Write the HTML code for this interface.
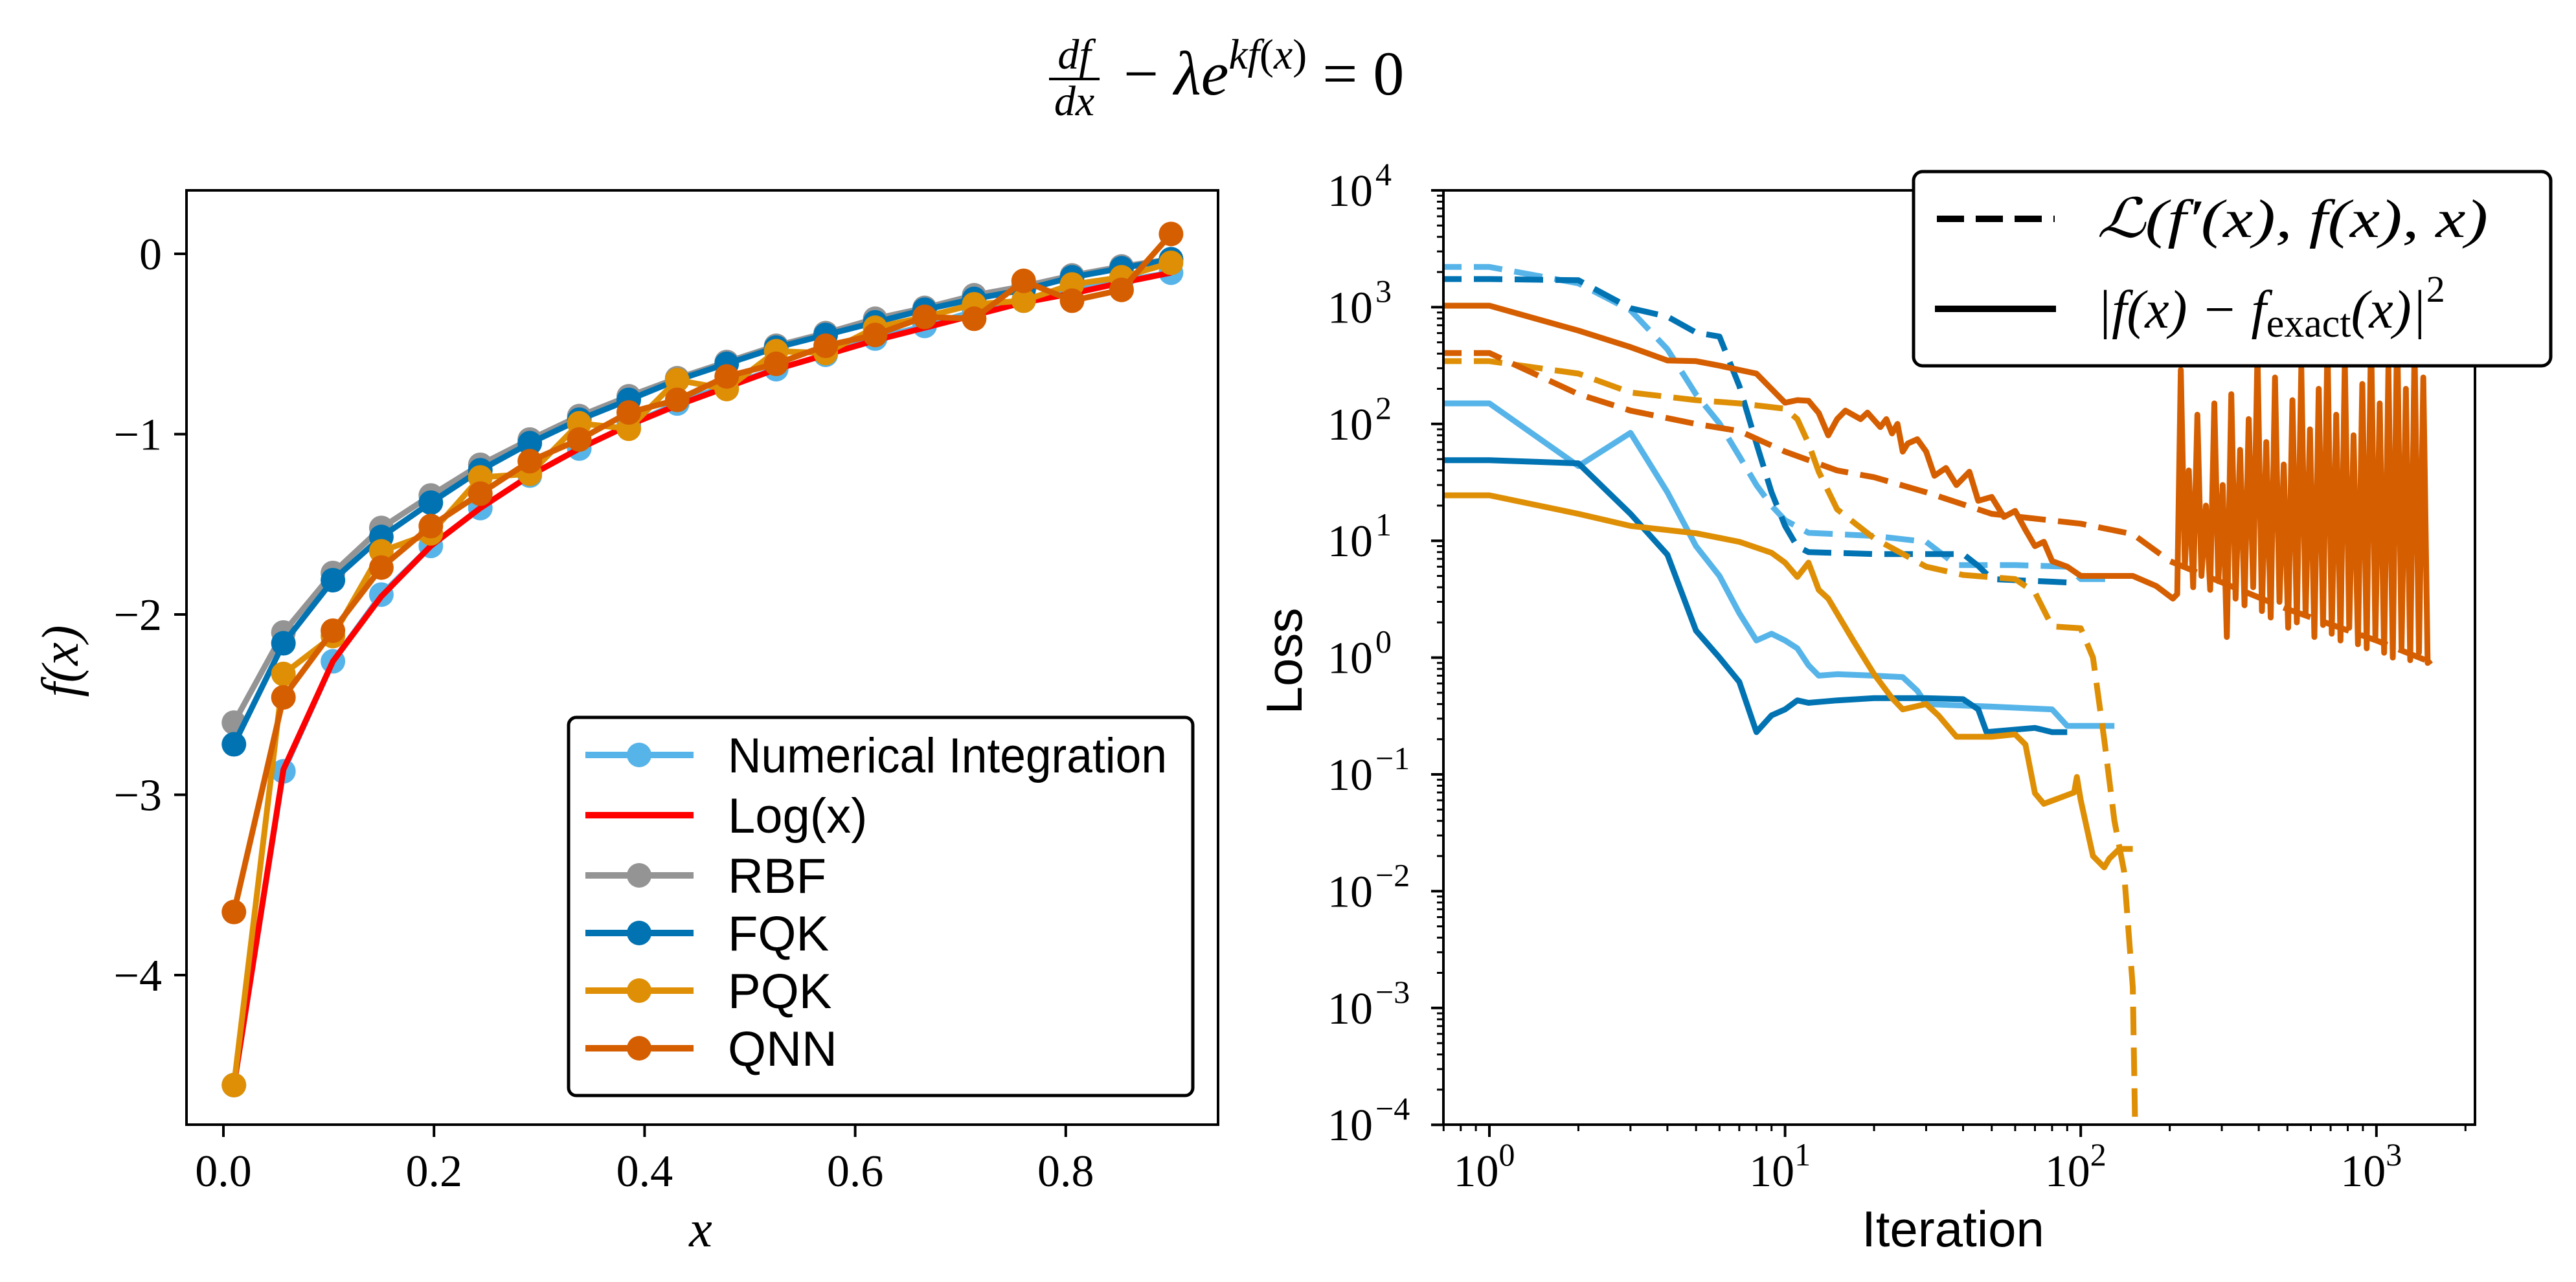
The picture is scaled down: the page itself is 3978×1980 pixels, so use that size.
<!DOCTYPE html>
<html><head><meta charset="utf-8"><style>
html,body{margin:0;padding:0;background:#fff;}
svg{display:block;}
.serif{font-family:"Liberation Serif",serif;}
.sans{font-family:"Liberation Sans",sans-serif;}
</style></head><body>
<svg id="fig" width="3978" height="1980" viewBox="0 0 3978 1980" xmlns="http://www.w3.org/2000/svg">
<defs>
<clipPath id="clipL"><rect x="288" y="294" width="1593" height="1443"/></clipPath>
<clipPath id="clipR"><rect x="2229" y="294" width="1593" height="1443"/></clipPath>
</defs>
<g class="serif" font-style="italic">
<text x="1659" y="106" font-size="66" text-anchor="middle">df</text>
<line x1="1620" y1="122" x2="1698" y2="122" stroke="#000" stroke-width="4"/>
<text x="1659" y="178" font-size="66" text-anchor="middle">dx</text>
<text x="1735" y="146" font-size="96"><tspan font-style="normal">− </tspan>λe<tspan font-size="66" dy="-40">kf<tspan font-style="normal">(</tspan>x<tspan font-style="normal">)</tspan></tspan><tspan dy="40" font-style="normal"> = 0</tspan></text>
</g>
<g id="left"></g>
<g id="right"></g>
</svg>
<script>
// ---- Left chart data ----
const xPts = [0.01,0.057,0.104,0.15,0.197,0.244,0.291,0.338,0.385,0.431,0.478,0.525,0.572,0.619,0.666,0.713,0.76,0.806,0.853,0.9];
const numInt = [-4.61,-2.87,-2.26,-1.89,-1.62,-1.41,-1.23,-1.08,-0.95,-0.83,-0.73,-0.64,-0.56,-0.47,-0.40,-0.32,-0.26,-0.20,-0.15,-0.105];
const logx = [-4.61,-2.86,-2.26,-1.90,-1.62,-1.41,-1.23,-1.08,-0.95,-0.84,-0.74,-0.64,-0.56,-0.48,-0.41,-0.34,-0.27,-0.22,-0.16,-0.105];
const rbf = [-2.6,-2.1,-1.77,-1.52,-1.34,-1.17,-1.03,-0.9,-0.79,-0.69,-0.6,-0.51,-0.44,-0.36,-0.30,-0.23,-0.18,-0.12,-0.07,-0.03];
const fqk = [-2.72,-2.16,-1.81,-1.57,-1.38,-1.2,-1.05,-0.92,-0.81,-0.70,-0.61,-0.52,-0.45,-0.38,-0.31,-0.25,-0.2,-0.13,-0.08,-0.03];
const pqk = [-4.61,-2.33,-2.12,-1.65,-1.55,-1.24,-1.22,-0.94,-0.97,-0.70,-0.75,-0.54,-0.55,-0.41,-0.35,-0.28,-0.26,-0.17,-0.13,-0.05];
const qnn = [-3.65,-2.46,-2.09,-1.74,-1.51,-1.33,-1.15,-1.03,-0.88,-0.81,-0.68,-0.61,-0.51,-0.45,-0.35,-0.36,-0.15,-0.26,-0.2,0.11];
const xTicksL = [0,0.2,0.4,0.6,0.8];
const xTickLabelsL = ["0.0","0.2","0.4","0.6","0.8"];
const yTicksL = [0,-1,-2,-3,-4];
const yTickLabelsL = ["0","−1","−2","−3","−4"];
const legendLabelsL = ["Numerical Integration","Log(x)","RBF","FQK","PQK","QNN"];

// ---- Right chart data ----
const itNumDash = [0,1,2,3,4,5,6,7,8,9,10,12,20,30,38,60,90,100,130];
const lossNumDash = [2210,2210,1600,940,436,179,101,53,30,20,15,11.7,11,9.8,6.2,6.2,6.0,4.7,4.7];
const itFqkDash = [0,1,2,3,4,5,6,7,8,9,10,11,12,20,40,45,50,90];
const lossFqkDash = [1740,1740,1700,980,830,606,560,212,68,26,13.4,8.9,8,7.7,7.7,6.1,4.7,4.4];
const itQnnDash = [0,1,2,3,5,7,10,15,20,30,50,100,150,200,300,500,1000,1500];
const lossQnnDash = [405,405,180,130,100,87,58,40,35,26,17,14,11.4,6.7,4.4,2.6,1.4,0.93];
const itPqkDash = [0,1,2,3,5,7,10,11,12,13,15,20,30,40,60,70,80,100,110,120,130,140,150,155];
const lossPqkDash = [345,345,270,186,160,150,135,110,68,39,18.6,10.5,6,5.1,4.7,3.6,1.85,1.78,1.0,0.2,0.04,0.015,0.0015,0.00001];
const itNumSol = [0,1,2,3,4,5,6,7,8,9,10,11,12,13,15,20,25,28,30,50,80,90,130];
const lossNumSol = [150,150,43.6,84,26,9,5,2.4,1.4,1.6,1.4,1.2,0.86,0.7,0.72,0.7,0.68,0.52,0.40,0.38,0.36,0.26,0.26];
const itFqkSol = [0,1,2,3,4,5,6,7,8,9,10,11,12,15,20,30,40,45,48,70,80,90];
const lossFqkSol = [49,49,46,17,7.6,1.7,1.0,0.62,0.23,0.32,0.36,0.43,0.41,0.43,0.45,0.45,0.44,0.36,0.23,0.25,0.23,0.23];
const itPqkSol = [0,1,2,3,5,7,9,10,11,12,13,14,17,20,23,25,30,33,38,50,60,65,70,75,85,95,97,100,110,120,125,135,150];
const lossPqkSol = [24.5,24.5,17,13.4,11.6,9.8,7.9,6.5,4.9,6.5,3.8,3.2,1.4,0.72,0.45,0.36,0.40,0.32,0.21,0.21,0.22,0.18,0.069,0.056,0.063,0.07,0.095,0.06,0.02,0.016,0.019,0.023,0.023];
const itQnnSol = [0,1,2,3,4,5,6,7,8,10,11,12,13,14,15,16,18,19,21,22,23,24,25,26,28,30,32,35,38,42,45,50,55,60,65,70,75,80,90,100,150,180,205,
212,218,225,232,240,248,256,265,274,283,292,302,312,323,334,346,358,370,383,396,410,424,439,454,470,486,503,520,538,557,576,596,617,638,660,683,706,731,756,782,809,837,866,896,927,959,992,1026,1062,1098,1136,1175,1216,1258,1301,1346,1393,1441,1490,1530];
const lossQnnSol = [1030,1030,630,455,350,345,316,290,270,152,160,158,124,80,110,130,110,125,94,110,83,100,58,68,74,58,36,42,30,39,22,23.7,16,18,12.4,9,9.8,6.7,6.0,5.0,5.0,4.1,3.2,
3.5,290,6,40,4,120,5,20,3.8,150,4.5,30,1.5,180,3.2,60,2.8,110,4,400,2.5,70,2.2,250,3,45,1.8,160,2,300,2.3,90,1.5,200,1.9,500,1.6,120,1.4,350,1.8,80,1.3,220,1.2,600,1.5,150,1.1,300,1.0,700,1.2,200,0.95,450,1.1,250,0.9,0.95];
const xTicksR = [0,1,2,3];
const yTicksR = [4,3,2,1,0,-1,-2,-3,-4];

const NS="http://www.w3.org/2000/svg";
function mk(tag, attrs, parent){const e=document.createElementNS(NS,tag);for(const k in attrs)e.setAttribute(k,attrs[k]);parent.appendChild(e);return e;}
const C={light:"#56B4E9",red:"#FF0000",gray:"#949494",blue:"#0173B2",orange:"#DE8F05",verm:"#D55E00"};

// Left axes
const L={x0:288,x1:1881,y0:294,y1:1737};
function XL(v){return 345+v*1626;}
function YL(v){return 392-v*278.5;}
const gl=document.getElementById('left');
const lseries=[[numInt,C.light,true,'series-numerical-integration'],[logx,C.red,false,'series-log-x'],[rbf,C.gray,true,'series-rbf'],[fqk,C.blue,true,'series-fqk'],[pqk,C.orange,true,'series-pqk'],[qnn,C.verm,true,'series-qnn']];
const plotL=mk('g',{'clip-path':'url(#clipL)'},gl);
lseries.forEach(s=>{
  const g=mk('g',{},plotL);
  
  
  const pts=xPts.map((x,i)=>XL(x).toFixed(1)+','+YL(s[0][i]).toFixed(1)).join(' ');
  const pl=mk('polyline',{points:pts,fill:'none',stroke:s[1],'stroke-width':9,'stroke-linejoin':'round'},g);
  
  
  if(s[2]) xPts.forEach((x,i)=>{
    const c=mk('circle',{cx:XL(x),cy:YL(s[0][i]),r:19,fill:s[1]},g);
    
    
  });
});
const frL=mk('rect',{x:L.x0,y:L.y0,width:L.x1-L.x0,height:L.y1-L.y0,fill:'none',stroke:'#000','stroke-width':4},gl);


xTicksL.forEach((t,i)=>{
  mk('line',{x1:XL(t),x2:XL(t),y1:L.y1,y2:L.y1+19,stroke:'#000','stroke-width':4},gl);
  const tx=mk('text',{x:XL(t),y:1832,'font-size':70,'text-anchor':'middle',class:'serif'},gl);
  tx.textContent=xTickLabelsL[i];
  
  
});
yTicksL.forEach((t,i)=>{
  mk('line',{x1:L.x0-19,x2:L.x0,y1:YL(t),y2:YL(t),stroke:'#000','stroke-width':4},gl);
  const tx=mk('text',{x:250,y:YL(t)+24,'font-size':70,'text-anchor':'end',class:'serif'},gl);
  tx.textContent=yTickLabelsL[i];
  
  
});
const xlab=mk('text',{x:1082,y:1925,'font-size':80,'text-anchor':'middle',class:'serif','font-style':'italic'},gl);
xlab.textContent='x';


const ylab=mk('text',{x:0,y:0,'font-size':80,'text-anchor':'middle',class:'serif','font-style':'italic',transform:'translate(120,1021) rotate(-90)'},gl);
ylab.textContent='f(x)';


// left legend
const lg=mk('g',{},gl);


mk('rect',{x:878,y:1108,width:964,height:584,rx:12,fill:'#fff',stroke:'#000','stroke-width':5},lg);
const legY=[1166,1259,1352,1441,1530,1619];
lseries.forEach((s,i)=>{
  const e=mk('g',{},lg);
  
  
  mk('line',{x1:904,x2:1071,y1:legY[i],y2:legY[i],stroke:s[1],'stroke-width':10},e);
  if(s[2]) mk('circle',{cx:987,cy:legY[i],r:19,fill:s[1]},e);
  const t=mk('text',{x:1124,y:legY[i]+27,'font-size':76,class:'sans'},e);
  t.textContent=legendLabelsL[i];
  if(i===0){t.setAttribute('textLength','678');t.setAttribute('lengthAdjust','spacingAndGlyphs');}
});

// Right axes
const R={x0:2229,x1:3822,y0:294,y1:1737};
function XR(it){return it<=0?2150:2300+Math.log10(it)*456.6;}
function YR(l){return 294+(4-Math.log10(l))*180.4;}
const gr=document.getElementById('right');
const plotR=mk('g',{'clip-path':'url(#clipR)'},gr);
const rseries=[[itNumDash,lossNumDash,C.light,true,'loss-numerical-integration'],[itNumSol,lossNumSol,C.light,false,'error-numerical-integration'],
[itFqkDash,lossFqkDash,C.blue,true,'loss-fqk'],[itFqkSol,lossFqkSol,C.blue,false,'error-fqk'],
[itPqkDash,lossPqkDash,C.orange,true,'loss-pqk'],[itPqkSol,lossPqkSol,C.orange,false,'error-pqk'],
[itQnnDash,lossQnnDash,C.verm,true,'loss-qnn'],[itQnnSol,lossQnnSol,C.verm,false,'error-qnn']];
rseries.forEach(s=>{
  const pts=s[0].map((it,i)=>XR(it).toFixed(1)+','+YR(s[1][i]).toFixed(1)).join(' ');
  const a={points:pts,fill:'none',stroke:s[2],'stroke-width':9,'stroke-linejoin':'round'};
  if(s[3]) a['stroke-dasharray']='44 19';
  const pl=mk('polyline',a,plotR);
  
  
});
const frR=mk('rect',{x:R.x0,y:R.y0,width:R.x1-R.x0,height:R.y1-R.y0,fill:'none',stroke:'#000','stroke-width':4},gr);


for(let d=-1;d<=3;d++){for(let m=1;m<10;m++){
  const px=2300+(d+Math.log10(m))*456.6;
  if(px<R.x0||px>R.x1)continue;
  const len=m===1?19:10;
  mk('line',{x1:px,x2:px,y1:R.y1,y2:R.y1+len,stroke:'#000','stroke-width':m===1?4:3},gr);
}}
xTicksR.forEach(t=>{
  const px=2300+t*456.6;
  const tx=mk('text',{x:px-8,y:1832,'font-size':70,'text-anchor':'middle',class:'serif'},gr);
  tx.textContent='10';
  const sp=mk('tspan',{dy:-32,'font-size':50},tx);
  sp.textContent=String(t);
  
  
});
for(let d=-4;d<4;d++){for(let m=1;m<10;m++){
  const py=294+(4-d-Math.log10(m))*180.4;
  mk('line',{x1:R.x0-(m===1?19:10),x2:R.x0,y1:py,y2:py,stroke:'#000','stroke-width':m===1?4:3},gr);
}}
mk('line',{x1:R.x0-19,x2:R.x0,y1:R.y0,y2:R.y0,stroke:'#000','stroke-width':4},gr);
yTicksR.forEach(t=>{
  const py=YR(Math.pow(10,t));
  const tx=mk('text',{x:2120,y:py+24,'font-size':70,'text-anchor':'end',class:'serif'},gr);
  tx.textContent='10';
  
  
  const sp=mk('text',{x:2124,y:py-8,'font-size':50,'text-anchor':'start',class:'serif'},gr);
  sp.textContent=t<0?'−'+(-t):String(t);
});
const xlabR=mk('text',{x:3016,y:1925,'font-size':78,'text-anchor':'middle',class:'sans'},gr);
xlabR.textContent='Iteration';


const ylabR=mk('text',{x:0,y:0,'font-size':78,'text-anchor':'middle',class:'sans',transform:'translate(2010,1021) rotate(-90)'},gr);
ylabR.textContent='Loss';


// right legend
const rg=mk('g',{},gr);


mk('rect',{x:2955,y:265,width:984,height:300,rx:14,fill:'#fff',stroke:'#000','stroke-width':5},rg);
const e1=mk('g',{},rg);


mk('line',{x1:2991,x2:3173,y1:338,y2:338,stroke:'#000','stroke-width':10,'stroke-dasharray':'42 18'},e1);
const t1=mk('text',{x:3238,y:366,'font-size':84,class:'serif','font-style':'italic',textLength:604,lengthAdjust:'spacingAndGlyphs'},e1);
t1.textContent='ℒ(f′(x), f(x), x)';
const e2=mk('g',{},rg);


mk('line',{x1:2988,x2:3175,y1:477,y2:477,stroke:'#000','stroke-width':10},e2);
const t2=mk('text',{x:3238,y:506,'font-size':84,class:'serif','font-style':'italic'},e2);
t2.innerHTML='|f(x) − f<tspan font-style="normal" font-size="62" dy="14">exact</tspan><tspan dy="-14">(x)|</tspan><tspan font-style="normal" font-size="58" dy="-40">2</tspan>';
</script>
</body></html>
